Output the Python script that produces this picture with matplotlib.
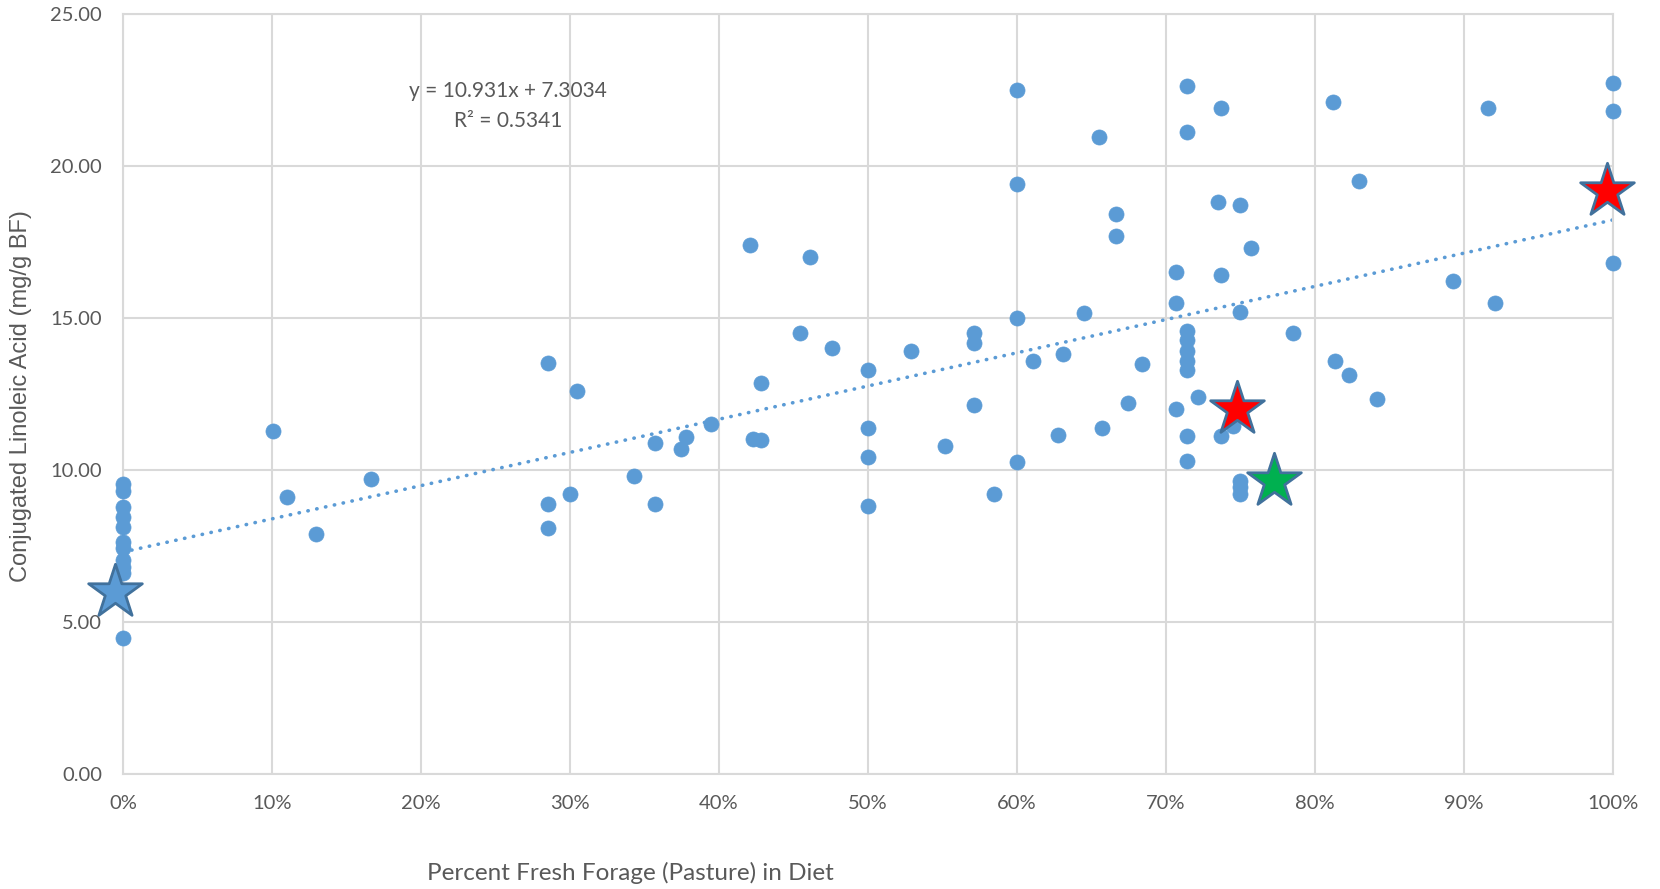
import matplotlib.pyplot as plt
import numpy as np

# Percent fresh forage (fraction) and CLA (mg/g BF)
forage = [0, 0, 0, 0, 0, 0, 0, 0, 0, 0, 0,
          0.1006, 0.110, 0.130, 0.1666,
          0.2857, 0.2857, 0.2857, 0.300, 0.3047, 0.3432, 0.357, 0.357,
          0.3747, 0.3783, 0.3946, 0.4208, 0.4233, 0.4286, 0.4286,
          0.4544, 0.4613, 0.476, 0.50, 0.50, 0.50, 0.50,
          0.529, 0.552, 0.5714, 0.5714, 0.5714, 0.585,
          0.60, 0.60, 0.60, 0.60, 0.611, 0.628, 0.631, 0.645,
          0.655, 0.657, 0.6667, 0.6667, 0.675, 0.684,
          0.707, 0.707, 0.707, 0.7143, 0.7143, 0.7143, 0.7143, 0.7143,
          0.7143, 0.7143, 0.7143, 0.7143, 0.722,
          0.735, 0.737, 0.737, 0.737, 0.745, 0.75, 0.75, 0.75, 0.75, 0.75,
          0.757, 0.7855, 0.8124, 0.8139, 0.8233, 0.8296, 0.8421,
          0.8927, 0.9166, 0.921, 1.0, 1.0, 1.0]
cla = [9.55, 9.33, 8.80, 8.47, 8.12, 7.65, 7.45, 7.05, 6.82, 6.60, 4.48,
       11.30, 9.11, 7.90, 9.71,
       13.54, 8.90, 8.10, 9.20, 12.61, 9.81, 10.88, 8.90,
       10.71, 11.09, 11.51, 17.41, 11.01, 10.99, 12.88,
       14.50, 17.02, 14.02, 13.30, 11.40, 10.42, 8.83,
       13.91, 10.81, 14.52, 14.20, 12.15, 9.22,
       22.52, 19.42, 15.02, 10.27, 13.59, 11.16, 13.82, 15.16,
       20.98, 11.40, 18.42, 17.71, 12.22, 13.51,
       16.52, 15.51, 12.02, 22.63, 21.13, 14.58, 14.30, 13.92,
       13.59, 13.31, 11.11, 10.29, 12.41,
       18.82, 21.92, 16.41, 11.11, 11.47, 18.72, 15.22, 9.63, 9.43, 9.20,
       17.31, 14.51, 22.13, 13.61, 13.12, 19.52, 12.35,
       16.22, 21.92, 15.51, 22.73, 21.83, 16.83]

# highlighted farms (stars)
blue_star = (-0.005, 6.0)
red_stars_x = [0.748, 0.996]
red_stars_y = [12.0, 19.19]
green_star = (0.773, 9.63)

# linear trend shown on the chart
slope, intercept, r2 = 10.931, 7.3034, 0.5341

blue = "#5B9BD5"
edge = "#41719C"
grey = "#595959"
grid_c = "#D9D9D9"

fig = plt.figure(figsize=(16.6, 8.89), dpi=100)
ax = fig.add_axes([0.074, 0.1294, 0.8974, 0.8543])

tx = np.array([0.0, 1.0])
ax.plot(tx, slope * tx + intercept, color=blue, lw=2.6,
        linestyle=(0, (0.1, 2.4)), dash_capstyle="round", zorder=2)

ax.scatter(forage, cla, s=118, color=blue, edgecolors=blue, linewidths=0.5,
           zorder=3, clip_on=False)

star_s = 1650
ax.scatter([blue_star[0]], [blue_star[1]], marker="*", s=star_s, color=blue,
           edgecolors=edge, linewidths=2, zorder=4, clip_on=False)
ax.scatter(red_stars_x, red_stars_y, marker="*", s=star_s, color="#FF0000",
           edgecolors=edge, linewidths=2, zorder=4, clip_on=False)
ax.scatter([green_star[0]], [green_star[1]], marker="*", s=star_s, color="#00B050",
           edgecolors=edge, linewidths=2, zorder=4, clip_on=False)

ax.text(0.2586, 22.48, f"y = {slope}x + {intercept}", ha="center", va="center",
        fontsize=15, color=grey, family="Lato")
ax.text(0.2586, 21.49, f"R² = {r2}", ha="center", va="center",
        fontsize=15, color=grey, family="Lato")

ax.set_xlim(0, 1)
ax.set_ylim(0, 25)
ax.set_xticks(np.arange(0, 1.01, 0.1))
ax.set_xticklabels([f"{int(round(v * 100))}%" for v in np.arange(0, 1.01, 0.1)])
ax.set_yticks(np.arange(0, 25.1, 5))
ax.set_yticklabels([f"{v:.2f}" for v in np.arange(0, 25.1, 5)])
for lab in ax.get_xticklabels() + ax.get_yticklabels():
    lab.set_family("Lato")
ax.tick_params(length=0, labelsize=14.5, labelcolor=grey, pad=15)
ax.grid(True, color=grid_c, lw=1.5)
ax.set_axisbelow(True)
for sp in ax.spines.values():
    sp.set_color(grid_c)
    sp.set_linewidth(1.5)

ax.set_ylabel("Conjugated Linoleic Acid (mg/g BF)", fontsize=17, color=grey,
              family="Liberation Sans")
ax.yaxis.set_label_coords(-0.061, 0.498)
fig.text(0.3795, 0.018, "Percent Fresh Forage (Pasture) in Diet", ha="center",
         va="center", fontsize=17.5, color=grey, family="Lato")

fig.savefig("out.png", dpi=100)
